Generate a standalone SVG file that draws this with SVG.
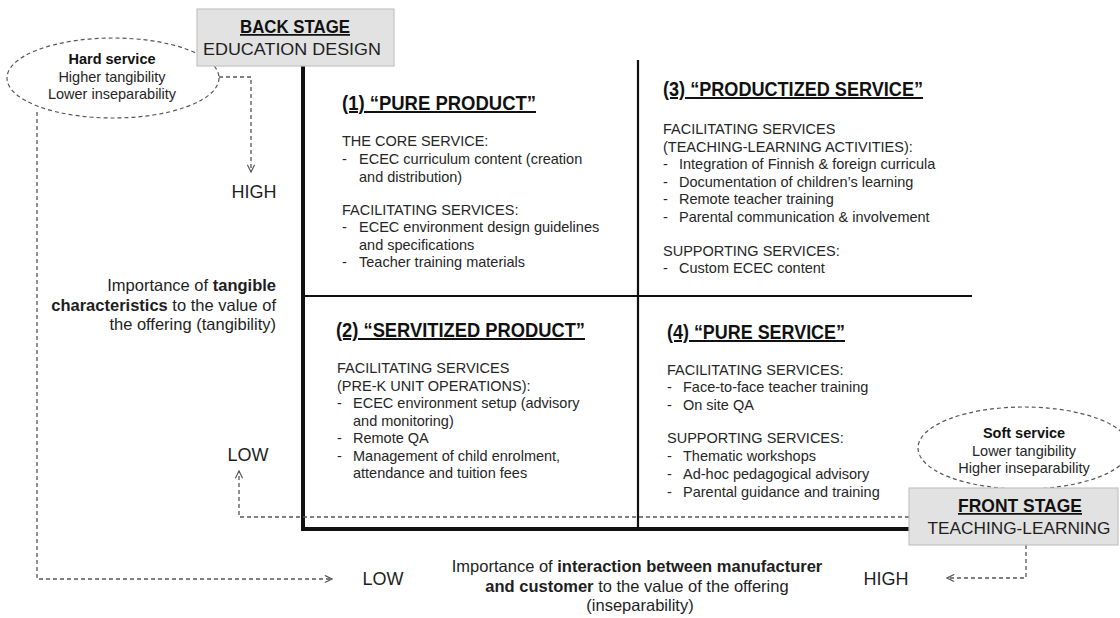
<svg xmlns="http://www.w3.org/2000/svg" width="1120" height="618" viewBox="0 0 1120 618">
<defs>
<style>
.t{font-family:"Liberation Sans",Arial,sans-serif;font-size:14.5px;fill:#262626}
.e{font-family:"Liberation Sans",Arial,sans-serif;font-size:14.5px;fill:#262626;text-anchor:middle}
.eb{font-weight:bold;fill:#111}
.ttl{font-family:"Liberation Sans",Arial,sans-serif;font-size:20px;font-weight:bold;fill:#111;text-decoration:underline}
.ax{font-family:"Liberation Sans",Arial,sans-serif;font-size:16.5px;fill:#1e1e1e}
.hl{font-family:"Liberation Sans",Arial,sans-serif;font-size:18px;fill:#1e1e1e;text-anchor:middle}
.bx{fill:#e2e2e2;stroke:#c4c4c4;stroke-width:1.2}
.bt{font-family:"Liberation Sans",Arial,sans-serif;font-weight:bold;font-size:17.5px;fill:#111;text-anchor:middle;text-decoration:underline}
.bs{font-family:"Liberation Sans",Arial,sans-serif;font-size:17px;fill:#1e1e1e;text-anchor:middle}
.el{fill:#fff;stroke:#555;stroke-width:1.2;stroke-dasharray:4 3}
.dc{fill:none;stroke:#555;stroke-width:1.3;stroke-dasharray:4 3}
.axis{stroke:#111;stroke-width:4;fill:none}
.mid{stroke:#111;stroke-width:2.2;fill:none}
</style>
<marker id="chev" viewBox="0 0 10 10" refX="9" refY="5" markerWidth="9" markerHeight="9" markerUnits="userSpaceOnUse" orient="auto">
<path d="M1,1 L9,5 L1,9" fill="none" stroke="#555" stroke-width="1.3"/>
</marker>
</defs>
<rect width="1120" height="618" fill="#fff"/>

<g id="grid">
<line class="mid" x1="638" y1="60" x2="638" y2="529"/>
<line class="mid" x1="303" y1="296" x2="972" y2="296"/>
<line class="axis" x1="303" y1="60" x2="303" y2="529"/>
<line class="axis" x1="301" y1="529" x2="912" y2="529"/>
</g>

<g id="connectors">
<polyline class="dc" points="219,77 251,77 251,172" marker-end="url(#chev)"/>
<polyline class="dc" points="37,112 37,579 332,579" marker-end="url(#chev)"/>
<polyline class="dc" points="909,517 239,517 239,471" marker-end="url(#chev)"/>
<polyline class="dc" points="1026,545 1026,578 947,578" marker-end="url(#chev)"/>
</g>

<g id="hard-service">
<ellipse class="el" cx="113" cy="78" rx="106" ry="40"/>
<text class="e eb" x="112" y="64">Hard service</text>
<text class="e" x="112" y="82">Higher tangibility</text>
<text class="e" x="112" y="99">Lower inseparability</text>
</g>

<g id="back-stage">
<rect class="bx" x="197" y="9" width="197" height="57"/>
<text class="bt" x="295" y="33" textLength="110" lengthAdjust="spacingAndGlyphs">BACK STAGE</text>
<text class="bs" x="292" y="55" textLength="178" lengthAdjust="spacingAndGlyphs">EDUCATION DESIGN</text>
</g>

<g id="soft-service">
<ellipse class="el" cx="1024" cy="448" rx="106" ry="41"/>
<text class="e eb" x="1024" y="438">Soft service</text>
<text class="e" x="1024" y="456">Lower tangibility</text>
<text class="e" x="1024" y="473">Higher inseparability</text>
</g>

<g id="front-stage">
<rect class="bx" x="909" y="488" width="209" height="57"/>
<text class="bt" x="1020" y="512" textLength="124" lengthAdjust="spacingAndGlyphs">FRONT STAGE</text>
<text class="bs" x="1019" y="534" textLength="183" lengthAdjust="spacingAndGlyphs">TEACHING-LEARNING</text>
</g>

<g id="q1-pure-product">
<text class="ttl" x="342" y="110" textLength="194" lengthAdjust="spacingAndGlyphs">(1) “PURE PRODUCT”</text>
<text class="t" x="342" y="146">THE CORE SERVICE:</text>
<text class="t" x="342" y="164">-</text><text class="t" x="359" y="164">ECEC curriculum content (creation</text>
<text class="t" x="359" y="182">and distribution)</text>
<text class="t" x="342" y="215">FACILITATING SERVICES:</text>
<text class="t" x="342" y="232">-</text><text class="t" x="359" y="232">ECEC environment design guidelines</text>
<text class="t" x="359" y="250">and specifications</text>
<text class="t" x="342" y="267">-</text><text class="t" x="359" y="267">Teacher training materials</text>
</g>

<g id="q3-productized-service">
<text class="ttl" x="663" y="96" textLength="260" lengthAdjust="spacingAndGlyphs">(3) “PRODUCTIZED SERVICE”</text>
<text class="t" x="663" y="134">FACILITATING SERVICES</text>
<text class="t" x="663" y="152">(TEACHING-LEARNING ACTIVITIES):</text>
<text class="t" x="663" y="169">-</text><text class="t" x="679" y="169">Integration of Finnish &amp; foreign curricula</text>
<text class="t" x="663" y="187">-</text><text class="t" x="679" y="187">Documentation of children’s learning</text>
<text class="t" x="663" y="204">-</text><text class="t" x="679" y="204">Remote teacher training</text>
<text class="t" x="663" y="222">-</text><text class="t" x="679" y="222">Parental communication &amp; involvement</text>
<text class="t" x="663" y="256">SUPPORTING SERVICES:</text>
<text class="t" x="663" y="273">-</text><text class="t" x="679" y="273">Custom ECEC content</text>
</g>

<g id="q2-servitized-product">
<text class="ttl" x="336" y="337" textLength="249" lengthAdjust="spacingAndGlyphs">(2) “SERVITIZED PRODUCT”</text>
<text class="t" x="337" y="373">FACILITATING SERVICES</text>
<text class="t" x="337" y="391">(PRE-K UNIT OPERATIONS):</text>
<text class="t" x="337" y="408">-</text><text class="t" x="353" y="408">ECEC environment setup (advisory</text>
<text class="t" x="353" y="426">and monitoring)</text>
<text class="t" x="337" y="443">-</text><text class="t" x="353" y="443">Remote QA</text>
<text class="t" x="337" y="461">-</text><text class="t" x="353" y="461">Management of child enrolment,</text>
<text class="t" x="353" y="478">attendance and tuition fees</text>
</g>

<g id="q4-pure-service">
<text class="ttl" x="667" y="339" textLength="178" lengthAdjust="spacingAndGlyphs">(4) “PURE SERVICE”</text>
<text class="t" x="667" y="375">FACILITATING SERVICES:</text>
<text class="t" x="667" y="392">-</text><text class="t" x="683" y="392">Face-to-face teacher training</text>
<text class="t" x="667" y="410">-</text><text class="t" x="683" y="410">On site QA</text>
<text class="t" x="667" y="443">SUPPORTING SERVICES:</text>
<text class="t" x="667" y="461">-</text><text class="t" x="683" y="461">Thematic workshops</text>
<text class="t" x="667" y="479">-</text><text class="t" x="683" y="479">Ad-hoc pedagogical advisory</text>
<text class="t" x="667" y="497">-</text><text class="t" x="683" y="497">Parental guidance and training</text>
</g>

<g id="y-axis-label">
<text class="hl" x="254" y="198">HIGH</text>
<text class="hl" x="248" y="461">LOW</text>
<text class="ax" x="276" y="291" text-anchor="end">Importance of <tspan font-weight="bold">tangible</tspan></text>
<text class="ax" x="276" y="311" text-anchor="end"><tspan font-weight="bold">characteristics</tspan> to the value of</text>
<text class="ax" x="276" y="330" text-anchor="end">the offering (tangibility)</text>
</g>

<g id="x-axis-label">
<text class="hl" x="383" y="585">LOW</text>
<text class="hl" x="886" y="585">HIGH</text>
<text class="ax" x="637" y="572" text-anchor="middle">Importance of <tspan font-weight="bold">interaction between manufacturer</tspan></text>
<text class="ax" x="637" y="592" text-anchor="middle"><tspan font-weight="bold">and customer</tspan> to the value of the offering</text>
<text class="ax" x="640" y="611" text-anchor="middle">(inseparability)</text>
</g>
</svg>
